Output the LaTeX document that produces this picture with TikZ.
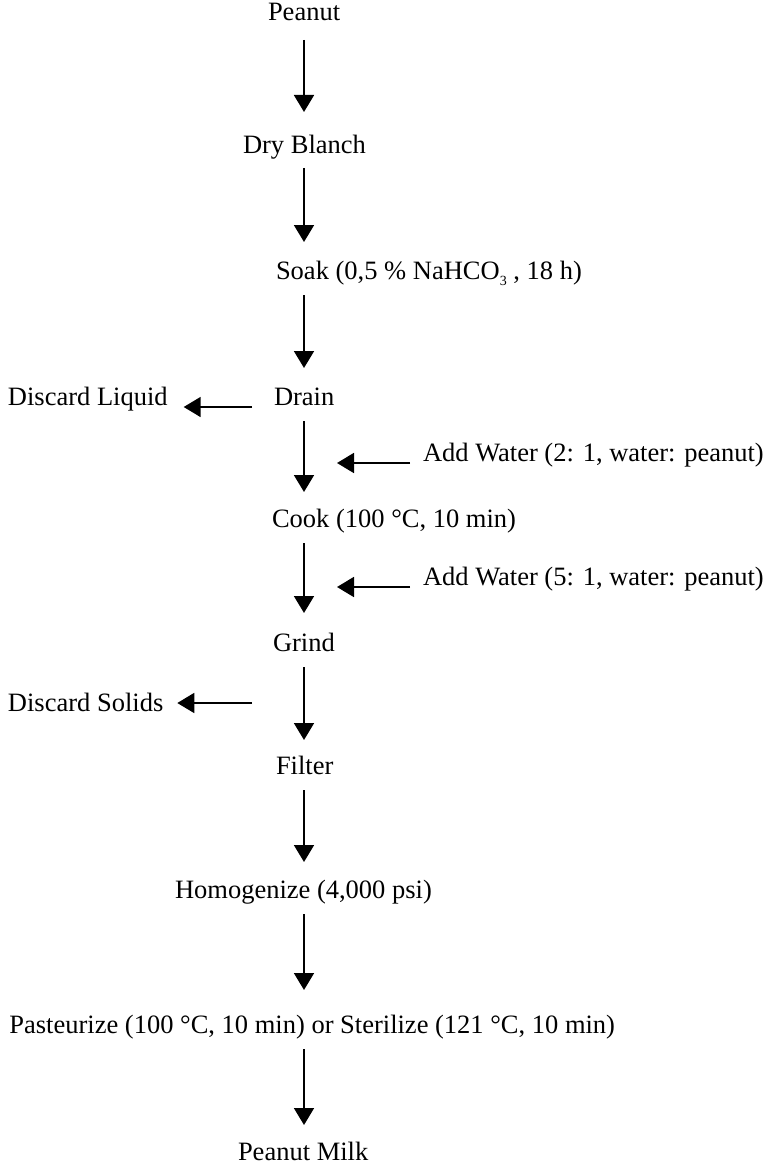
\documentclass[tikz,border=0pt]{standalone}
\usepackage{fontspec}
\setmainfont{Liberation Serif}
\usetikzlibrary{arrows.meta}
\begin{document}
\begin{tikzpicture}[x=1pt,y=-1pt,
  lbl/.style={inner sep=0pt,outer sep=0pt,font=\fontsize{26.5}{30}\selectfont,text height=18pt,text depth=6pt},
  flow/.style={line width=1.8pt,-{Triangle[length=17pt,width=20pt]},shorten <=10pt,shorten >=19pt},
  side/.style={line width=1.8pt,-{Triangle[length=17pt,width=20pt]}}]
\useasboundingbox (0,0) rectangle (766,1169);
\coordinate (ax) at (304,0);
\node[lbl,anchor=base west] (peanut) at (268,21) {Peanut};
\node[lbl,anchor=base west] (blanch) at (243,154) {Dry Blanch};
\node[lbl,anchor=base west] (soak) at (276,279) {Soak (0,5 \% NaHCO\raisebox{-6pt}{\fontsize{14}{14}\selectfont 3} , 18 h)};
\node[lbl,anchor=base west] (drain) at (274,405) {Drain};
\node[lbl,anchor=base west] (liquid) at (8,405) {Discard Liquid};
\node[lbl,anchor=base west] (water1) at (423,461) {Add Water (2: 1, water: peanut)};
\node[lbl,anchor=base west] (cook) at (272,527) {Cook (100 °C, 10 min)};
\node[lbl,anchor=base west] (water2) at (423,585) {Add Water (5: 1, water: peanut)};
\node[lbl,anchor=base west] (grind) at (273,651) {Grind};
\node[lbl,anchor=base west] (solids) at (8,711) {Discard Solids};
\node[lbl,anchor=base west] (filter) at (276,774) {Filter};
\node[lbl,anchor=base west] (homog) at (175,898) {Homogenize (4,000 psi)};
\node[lbl,anchor=base east] (past) at (615,1033) {Pasteurize (100 °C, 10 min) or Sterilize (121 °C, 10 min)};
\node[lbl,anchor=base west] (milk) at (238,1160) {Peanut Milk};
\coordinate (sstart) at (252,703);
% main flow
\draw[flow,shorten <=13pt,shorten >=24pt] (ax |- peanut.south) -- (ax |- blanch.north);
\draw[flow,shorten <=8pt] (ax |- blanch.south) -- (ax |- soak.north);
\draw[flow] (ax |- soak.south) -- (ax |- drain.north);
\draw[flow,shorten >=17pt] (ax |- drain.south) -- (ax |- cook.north);
\draw[flow,shorten >=20pt] (ax |- cook.south) -- (ax |- grind.north);
\draw[flow,shorten >=16pt] (ax |- grind.south) -- (ax |- filter.north);
\draw[flow,shorten >=18pt] (ax |- filter.south) -- (ax |- homog.north);
\draw[flow,shorten >=25pt] (ax |- homog.south) -- (ax |- past.north);
\draw[flow,shorten >=17pt] (ax |- past.south) -- (ax |- milk.north);
% side arrows
\draw[side,shorten <=22pt,shorten >=16pt] ([yshift=-8pt]drain.west) -- ([yshift=-8pt]liquid.east);
\draw[side,shorten <=13pt,shorten >=33pt] ([yshift=-8pt]water1.west) -- ([yshift=-8pt]ax |- water1.west);
\draw[side,shorten <=13pt,shorten >=33pt] ([yshift=-8pt]water2.west) -- ([yshift=-8pt]ax |- water2.west);
\draw[side,shorten >=14pt] (sstart) -- (sstart -| solids.east);
\end{tikzpicture}
\end{document}
